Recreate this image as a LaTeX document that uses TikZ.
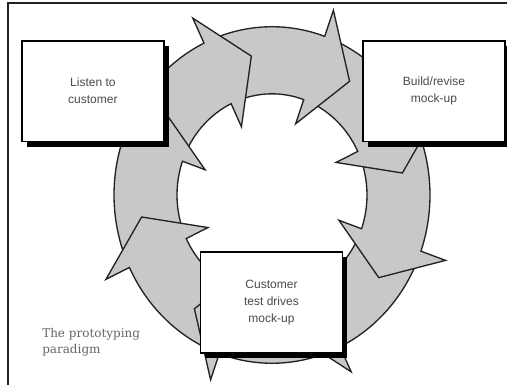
\documentclass[tikz,border=0pt]{standalone}
\usepackage{fontspec}
\setmainfont{Liberation Sans}
\newfontfamily\slabfont{DejaVu Serif}
\usetikzlibrary{shadows}
\definecolor{ringgray}{HTML}{C8C8C8}
\definecolor{ringline}{HTML}{222222}
\definecolor{txtgray}{HTML}{4A4A4A}
\definecolor{captgray}{HTML}{666666}
\begin{document}
\begin{tikzpicture}[x=0.75pt,y=0.75pt,
  ringarrow/.style={fill=ringgray,draw=ringline,line width=1pt,line join=miter},
  stagebox/.style={draw=black,fill=white,line width=1.1pt,minimum width=106.5pt,minimum height=75.5pt,
    align=center,text=txtgray,font=\fontsize{9}{12.75}\selectfont,
    drop shadow={shadow xshift=3.6pt,shadow yshift=-4pt,opacity=1,fill=black}},
  caption/.style={anchor=north west,align=left,inner sep=0pt,text=captgray,font=\slabfont\fontsize{9}{12}\selectfont}
  ]
\useasboundingbox (0,0) rectangle (507,385);
\fill[white] (0,0) rectangle (507,385);
\draw[line width=0.9pt,draw=ringline] (8,0) -- (8,382) -- (507,382);
\begin{scope}[shift={(272,190)},yscale=1.065]
\foreach \k in {4,3,2,1,0,7,6,5}{
  \pgfmathsetmacro\angB{115.5-45*\k}
  \pgfmathsetmacro\angT{\angB+41}
  \pgfmathsetmacro\angP{\angB-16.5}
  \draw[ringarrow] (\angT:158) arc[start angle=\angT,end angle=\angB,radius=158]
    -- (\angB:184) -- (\angP:132) -- (\angB:71) -- (\angB:95)
    arc[start angle=\angB,end angle=\angT,radius=95] -- cycle;
}
\end{scope}
\node[stagebox] (listen) at (92.9,293.8) {Listen to\\customer};
\node[stagebox] (build) at (434,293.8) {Build/revise\\mock-up};
\node[stagebox] (test) at (271.5,82.5) {Customer\\test drives\\mock-up};
\node[caption] (cap) at (42,57) {The prototyping\\paradigm};
\end{tikzpicture}
\end{document}
